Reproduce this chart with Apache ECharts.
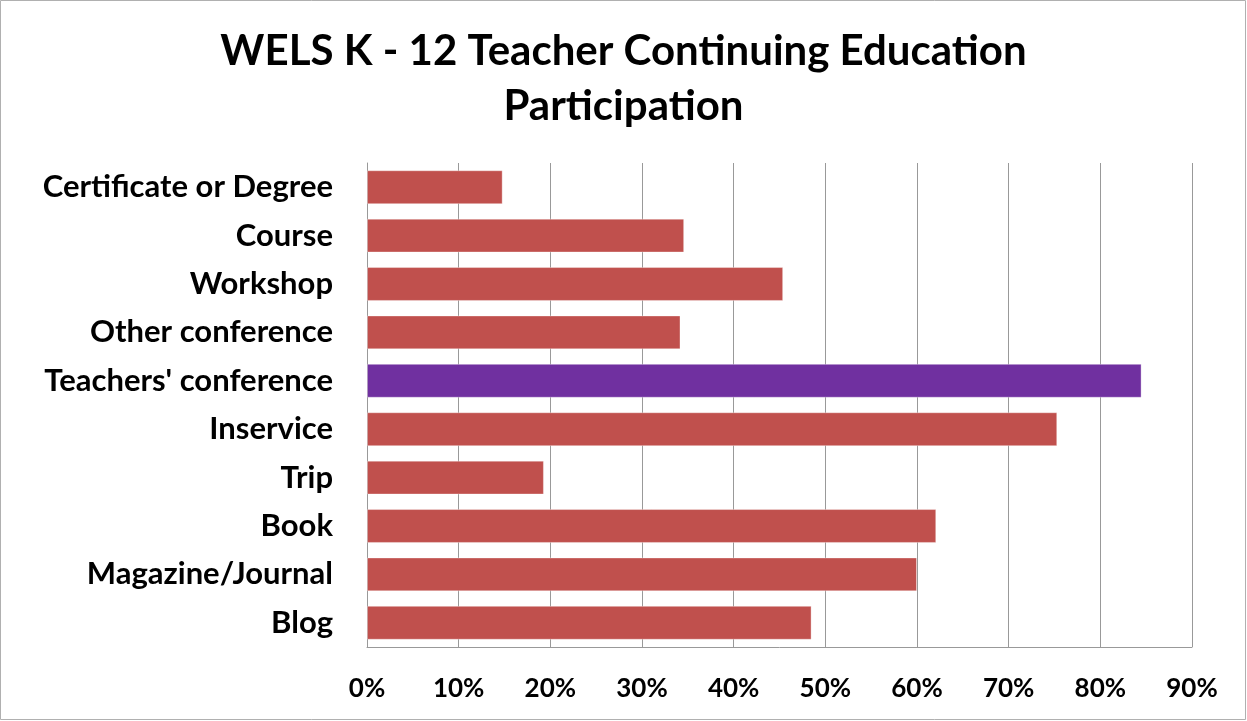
<html>
<head>
	<meta charset="UTF-8">
	<script src="https://cdn.jsdelivr.net/npm/echarts@6/dist/echarts.min.js"></script>
</head>
<body style="margin:0;">
<div id="chart" style="width:1247px;height:721px;"></div>
<script type="text/javascript">
        // categories top to bottom
        var categories = ['Certificate or Degree', 'Course', 'Workshop', 'Other conference',
            "Teachers' conference", 'Inservice', 'Trip', 'Book', 'Magazine/Journal', 'Blog'];
        // percent of teachers
        var values = [14.8, 34.6, 45.4, 34.2, 84.5, 75.3, 19.3, 62.1, 60.0, 48.5];
        // which bar is highlighted
        var highlight = "Teachers' conference";

        var FONT = 'Lato';

        var myChart = echarts.init(document.getElementById('chart'));

        var barData = [];
        for (var i = 0; i < categories.length; i++) {
            var c = categories[i] == highlight ? '#7030A0' : '#C0504D';
            barData.push({value: values[i], itemStyle: {color: c}});
        }

        var option = {
            backgroundColor: '#fff',
            animation: false,
            title: {
                text: 'WELS K - 12 Teacher Continuing Education\nParticipation',
                left: 'center',
                top: 19,
                textStyle: {
                    fontFamily: FONT,
                    fontWeight: 'bold',
                    fontSize: 42,
                    lineHeight: 55,
                    color: '#000'
                }
            },
            graphic: [{
                type: 'rect',
                shape: {x: 0.5, y: 0.5, width: 1245, height: 719},
                style: {fill: 'none', stroke: '#b0b0b0', lineWidth: 1},
                silent: true
            }],
            grid: {left: 367, right: 55, top: 163, bottom: 74},
            xAxis: {
                type: 'value',
                min: 0,
                max: 90,
                interval: 10,
                axisLine: {show: true, lineStyle: {color: '#999', width: 1}},
                axisTick: {show: false},
                splitLine: {show: true, lineStyle: {color: '#999', width: 1}},
                axisLabel: {
                    formatter: '{value}%',
                    margin: 29,
                    fontFamily: FONT,
                    fontWeight: 'bold',
                    fontSize: 26,
                    color: '#000'
                }
            },
            yAxis: {
                type: 'category',
                inverse: true,
                data: categories,
                axisLine: {show: true, lineStyle: {color: '#999', width: 1}},
                axisTick: {show: false},
                axisLabel: {
                    margin: 34,
                    fontFamily: FONT,
                    fontWeight: 'bold',
                    fontSize: 31,
                    color: '#000'
                }
            },
            series: [{
                type: 'bar',
                data: barData,
                barCategoryGap: '30%',
                itemStyle: {borderColor: 'rgba(255,255,255,0.35)', borderWidth: 1}
            }]
        };

        myChart.setOption(option);
</script>
</body>
</html>
